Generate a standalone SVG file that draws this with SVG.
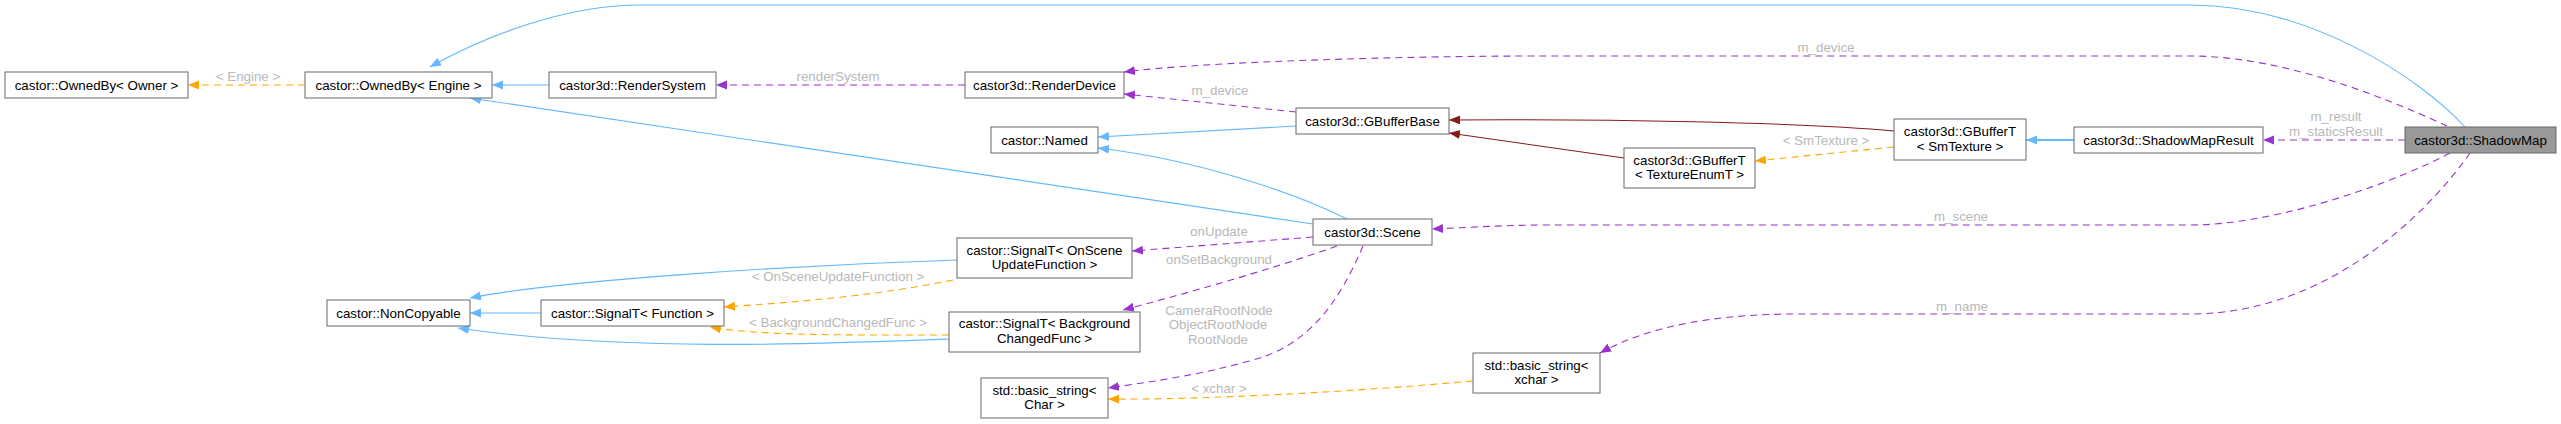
<svg xmlns="http://www.w3.org/2000/svg" width="2561" height="424" viewBox="0 0 2561 424">
<style>
.n rect{fill:#ffffff;stroke:#666666;stroke-width:1}
.n.main rect{fill:#999999}
.n text{font-family:"Liberation Sans",Arial,sans-serif;font-size:13.33px;fill:#000000;text-anchor:middle}
.e path{fill:none;stroke-width:1.1}
.inh{stroke:#63B8FF}
.tpl{stroke:#FFA500;stroke-dasharray:7,5}
.use{stroke:#9A32CD;stroke-dasharray:7,5}
.own{stroke:#8B1A1A}
.lbl{font-family:"Liberation Sans",Arial,sans-serif;font-size:13.33px;fill:#b8b8b8;text-anchor:middle}
</style>
<defs>
<marker id="aB" markerUnits="userSpaceOnUse" markerWidth="12" markerHeight="10" refX="11" refY="4.5" orient="auto"><path d="M0,0 L11,4.5 L0,9 z" fill="#63B8FF"/></marker>
<marker id="aO" markerUnits="userSpaceOnUse" markerWidth="12" markerHeight="10" refX="11" refY="4.5" orient="auto"><path d="M0,0 L11,4.5 L0,9 z" fill="#FFA500"/></marker>
<marker id="aP" markerUnits="userSpaceOnUse" markerWidth="12" markerHeight="10" refX="11" refY="4.5" orient="auto"><path d="M0,0 L11,4.5 L0,9 z" fill="#9A32CD"/></marker>
<marker id="aR" markerUnits="userSpaceOnUse" markerWidth="12" markerHeight="10" refX="11" refY="4.5" orient="auto"><path d="M0,0 L11,4.5 L0,9 z" fill="#8B1A1A"/></marker>
</defs>
<rect width="2561" height="424" fill="#ffffff"/>
<g id="connectors" class="e">
<path class="inh" d="M2465,127 C2420,78 2310,5 2190,5 L640,5 C570,5 490,33 430,67" marker-end="url(#aB)"/>
<path class="inh" d="M1313,224 L470,98" marker-end="url(#aB)"/>
<path class="inh" d="M549,85 L492,85" marker-end="url(#aB)"/>
<path class="inh" d="M1296,126 L1098,137" marker-end="url(#aB)"/>
<path class="inh" d="M1347,219 C1300,195 1200,160 1098,148" marker-end="url(#aB)"/>
<path class="inh" d="M2074,140 L2026,140" marker-end="url(#aB)" style="stroke-width:1.8"/>
<path class="inh" d="M957,260 C800,265 560,280 470,298" marker-end="url(#aB)"/>
<path class="inh" d="M541,313 L470,313" marker-end="url(#aB)"/>
<path class="inh" d="M949,339 C820,344 620,352 458,328" marker-end="url(#aB)"/>
<path class="tpl" d="M305,85 L188,85" marker-end="url(#aO)"/>
<path class="tpl" d="M1894,147 L1755,161" marker-end="url(#aO)"/>
<path class="tpl" d="M953,280 C880,295 800,302 724,307" marker-end="url(#aO)"/>
<path class="tpl" d="M949,335 C850,335 760,336 710,327" marker-end="url(#aO)"/>
<path class="tpl" d="M1473,381 C1350,392 1200,400 1108,399" marker-end="url(#aO)"/>
<path class="use" d="M965,85 L716,85" marker-end="url(#aP)"/>
<path class="use" d="M1296,112 L1124,94" marker-end="url(#aP)"/>
<path class="use" d="M2447,126 C2380,95 2280,56 2190,56 L1540,56 C1400,56 1200,62 1124,72" marker-end="url(#aP)"/>
<path class="use" d="M2405,140 L2263,140" marker-end="url(#aP)"/>
<path class="use" d="M2450,153 C2400,180 2280,225 2190,225 L1550,225 C1500,225 1460,228 1432,229" marker-end="url(#aP)"/>
<path class="use" d="M2470,153 C2430,210 2330,314 2190,314 L1797,314 C1720,314 1650,325 1600,353" marker-end="url(#aP)"/>
<path class="use" d="M1313,237 L1132,251" marker-end="url(#aP)"/>
<path class="use" d="M1337,246 C1270,270 1180,295 1123,310" marker-end="url(#aP)"/>
<path class="use" d="M1363,246 C1340,300 1310,345 1253,360 C1200,375 1150,382 1108,388" marker-end="url(#aP)"/>
<path class="own" d="M1894,131 C1800,122 1600,119 1449,120" marker-end="url(#aR)"/>
<path class="own" d="M1624,158 L1449,133" marker-end="url(#aR)"/>
<text class="lbl" x="248" y="81">&lt; Engine &gt;</text>
<text class="lbl" x="1826" y="145">&lt; SmTexture &gt;</text>
<text class="lbl" x="838" y="281">&lt; OnSceneUpdateFunction &gt;</text>
<text class="lbl" x="838" y="327">&lt; BackgroundChangedFunc &gt;</text>
<text class="lbl" x="1219" y="393">&lt; xchar &gt;</text>
<text class="lbl" x="838" y="81">renderSystem</text>
<text class="lbl" x="1220" y="95">m_device</text>
<text class="lbl" x="1826" y="52">m_device</text>
<text class="lbl" x="2336" y="121">m_result</text>
<text class="lbl" x="2336" y="136">m_staticsResult</text>
<text class="lbl" x="1961" y="221">m_scene</text>
<text class="lbl" x="1962" y="311">m_name</text>
<text class="lbl" x="1219" y="236">onUpdate</text>
<text class="lbl" x="1219" y="264">onSetBackground</text>
<text class="lbl" x="1219" y="315">CameraRootNode</text>
<text class="lbl" x="1218" y="329">ObjectRootNode</text>
<text class="lbl" x="1218" y="344">RootNode</text>
</g>
<g id="node_ownedby_owner" class="n"><rect x="5" y="72" width="183" height="26"/><text x="96.5" y="89.5">castor::OwnedBy&lt; Owner &gt;</text></g>
<g id="node_ownedby_engine" class="n"><rect x="305" y="72" width="187" height="26"/><text x="398.5" y="89.5">castor::OwnedBy&lt; Engine &gt;</text></g>
<g id="node_rendersystem" class="n"><rect x="549" y="72" width="167" height="26"/><text x="632.5" y="89.5">castor3d::RenderSystem</text></g>
<g id="node_renderdevice" class="n"><rect x="965" y="72" width="159" height="26"/><text x="1044.5" y="89.5">castor3d::RenderDevice</text></g>
<g id="node_named" class="n"><rect x="991" y="127" width="107" height="26"/><text x="1044.5" y="144.5">castor::Named</text></g>
<g id="node_gbufferbase" class="n"><rect x="1296" y="108" width="153" height="26"/><text x="1372.5" y="125.5">castor3d::GBufferBase</text></g>
<g id="node_gbuffer_textureenum" class="n"><rect x="1624" y="148" width="131" height="40"/><text x="1689.5" y="164.5">castor3d::GBufferT</text><text x="1689.5" y="179">&lt; TextureEnumT &gt;</text></g>
<g id="node_gbuffer_smtexture" class="n"><rect x="1894" y="119" width="132" height="41"/><text x="1960" y="136">castor3d::GBufferT</text><text x="1960" y="151">&lt; SmTexture &gt;</text></g>
<g id="node_shadowmapresult" class="n"><rect x="2074" y="127" width="189" height="26"/><text x="2168.5" y="144.5">castor3d::ShadowMapResult</text></g>
<g id="node_shadowmap" class="n main"><rect x="2405" y="127" width="151" height="26"/><text x="2480.5" y="144.5">castor3d::ShadowMap</text></g>
<g id="node_scene" class="n"><rect x="1313" y="219" width="119" height="26"/><text x="1372.5" y="236.5">castor3d::Scene</text></g>
<g id="node_signal_onscene" class="n"><rect x="957" y="238" width="175" height="40"/><text x="1044.5" y="255">castor::SignalT&lt; OnScene</text><text x="1044.5" y="269">UpdateFunction &gt;</text></g>
<g id="node_signal_background" class="n"><rect x="949" y="312" width="191" height="40"/><text x="1044.5" y="328">castor::SignalT&lt; Background</text><text x="1044.5" y="343">ChangedFunc &gt;</text></g>
<g id="node_signal_function" class="n"><rect x="541" y="300" width="183" height="26"/><text x="632.5" y="317.5">castor::SignalT&lt; Function &gt;</text></g>
<g id="node_noncopyable" class="n"><rect x="327" y="300" width="143" height="26"/><text x="398.5" y="317.5">castor::NonCopyable</text></g>
<g id="node_string_char" class="n"><rect x="981" y="378" width="127" height="40"/><text x="1044.5" y="394.5">std::basic_string&lt;</text><text x="1044.5" y="409">Char &gt;</text></g>
<g id="node_string_xchar" class="n"><rect x="1473" y="353" width="127" height="40"/><text x="1536.5" y="369.5">std::basic_string&lt;</text><text x="1536.5" y="384">xchar &gt;</text></g>
</svg>
